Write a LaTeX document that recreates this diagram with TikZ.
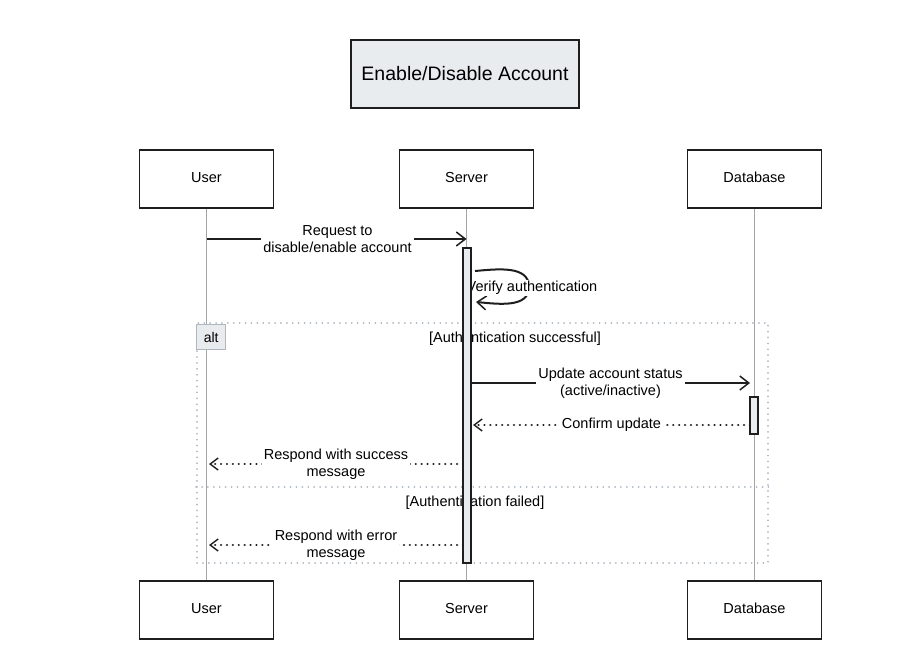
\documentclass[tikz,border=0pt]{standalone}
\usepackage{fontspec}
\setmainfont{Liberation Sans}
\usetikzlibrary{
  arrows.meta,
  positioning,
  calc
}
\definecolor{ink}{RGB}{30,30,30}
\definecolor{paleslate}{RGB}{233,236,239}
\definecolor{lifegray}{RGB}{165,165,165}
\definecolor{framegray}{RGB}{175,182,190}

\tikzset{
  actorbox/.style={draw=ink, line width=1.1pt, fill=white, minimum width=134pt, minimum height=58pt, text height=1.6ex, text depth=0.4ex, font=\fontsize{14.5}{16}\selectfont},
  titlebox/.style={draw=ink, line width=1.1pt, fill=paleslate, minimum width=228pt, minimum height=68pt, font=\fontsize{19.5}{22}\selectfont},
  lifeline/.style={draw=lifegray, line width=0.9pt},
  actbar/.style={draw=ink, line width=1.1pt, fill=paleslate, minimum width=8pt, inner sep=0pt},
  msg/.style={draw=ink, line width=2pt, -{Straight Barb[length=9pt,width=14pt,line width=1.5pt]}},
  reply/.style={draw=ink, line width=2.4pt, line cap=round, dash pattern=on 0.1pt off 5.8pt, -{Straight Barb[length=8pt,width=12pt,line width=1.4pt]}},
  msglabel/.style={fill=white, align=center, inner sep=2pt, font=\fontsize{14.5}{17}\selectfont},
  altframe/.style={draw=framegray, line width=1.8pt, line cap=round, dash pattern=on 0.1pt off 5.8pt, inner sep=0pt},
  alttag/.style={draw=framegray, line width=1.1pt, fill=paleslate, minimum width=29pt, minimum height=25pt, inner sep=0pt, font=\fontsize{14}{16}\selectfont},
  guard/.style={font=\fontsize{14.5}{16}\selectfont, inner sep=1pt}
}

\begin{document}
\begin{tikzpicture}[x=1pt, y=-1pt]
  \useasboundingbox (0,0) rectangle (901,671);

  % title and participants
  \node[titlebox] (title) at (465,74) {Enable/Disable Account};
  \node[actorbox] (user) at (206.5,179) {User};
  \node[actorbox] (server) at (466.5,179) {Server};
  \node[actorbox] (db) at (754.5,179) {Database};

  % alt frame
  \node[altframe, minimum width=571pt, minimum height=240pt] (alt) at (482.5,443) {};
  \draw[altframe] (alt.west |- 0,487) -- (alt.east |- 0,487);

  % lifelines
  \draw[lifeline] (user.south) -- (206.5,581) coordinate (userEnd);
  \draw[lifeline] (server.south) -- (466.5,581) coordinate (serverEnd);
  \draw[lifeline] (db.south) -- (754.5,581) coordinate (dbEnd);

  \node[alttag, anchor=north west] (tag) at ($(alt.north west)+(0,2)$) {alt};
  \node[guard] (guardOk) at (515,339) {[Authentication successful]};
  \node[guard] (guardFail) at (475,503) {[Authentication failed]};

  % messages
  \draw[msg] (user.south |- 0,239) -- node[msglabel, xshift=1pt] {Request to\\disable/enable account} (server.south |- 0,239);
  \draw[msg] (475,271) to[out=5, in=90] (529,287) to[out=-90, in=-5] (476,302);
  \node[msglabel, inner sep=1pt] (verify) at (532,288) {Verify authentication};
  \draw[msg] (471,383) -- node[msglabel] {Update account status\\(active/inactive)} (750,383);
  \draw[reply] (750,425) -- node[msglabel] {Confirm update} (473,425);
  \draw[reply] (463,464) -- node[msglabel] {Respond with success\\message} (209,464);
  \draw[reply] (463,545) -- node[msglabel] {Respond with error\\message} (209,545);

  % activations
  \node[actbar, minimum height=315pt] (srvAct) at (467,405.5) {};
  \node[actbar, minimum height=37pt] (dbAct) at (754,415.5) {};

  % bottom participants
  \node[actorbox] (userB) at (userEnd |- 0,610) {User};
  \node[actorbox] (serverB) at (serverEnd |- 0,610) {Server};
  \node[actorbox] (dbB) at (dbEnd |- 0,610) {Database};
\end{tikzpicture}
\end{document}
